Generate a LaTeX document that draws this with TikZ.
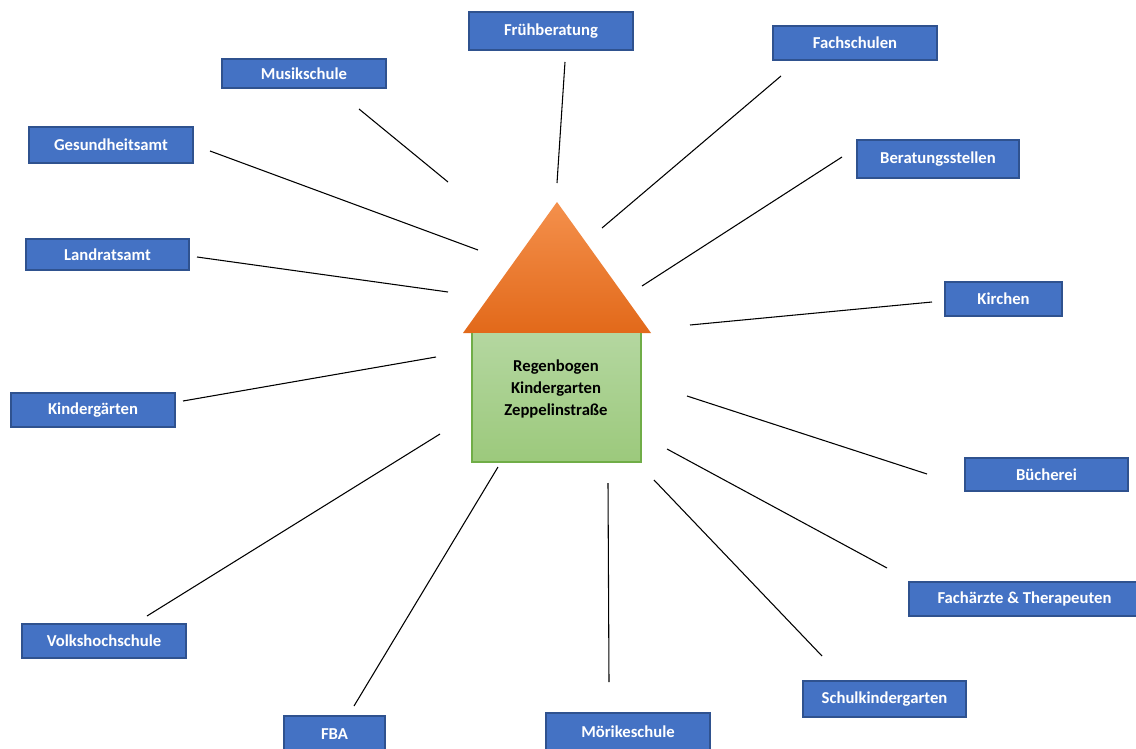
\documentclass[tikz,border=0pt]{standalone}
\usepackage{fontspec}
\setmainfont{Carlito}
\definecolor{boxblue}{HTML}{4472C4}
\definecolor{boxedge}{HTML}{2F528F}
\definecolor{rooftop}{HTML}{F4904C}
\definecolor{roofbot}{HTML}{E2691A}
\definecolor{walltop}{HTML}{B4D7A0}
\definecolor{wallbot}{HTML}{9CC97C}
\definecolor{walledge}{HTML}{70AD47}
\begin{document}
\begin{tikzpicture}[x=0.75pt,y=-0.75pt,
  bbox/.style={draw=boxedge,fill=boxblue,line width=0.9pt,text=white,
    font=\fontsize{12.5}{15}\selectfont\bfseries,inner sep=0pt},
  bw/.style={minimum width=#1*0.75pt},
  bh/.style={minimum height=#1*0.75pt},
  link/.style={draw=black,line width=0.8pt}]
\clip (0,0) rectangle (1136,749);
\fill[white] (0,0) rectangle (1136,749);
% house
\shade[top color=rooftop,bottom color=roofbot] (557,202) -- (651,333) -- (463,333) -- cycle;
\shade[top color=walltop,bottom color=wallbot] (472,333) rectangle (641,462);
\draw[walledge,line width=0.9pt] (472,333) -- (472,462) -- (641,462) -- (641,333);
\node[font=\fontsize{12.5}{16.5}\selectfont\bfseries,align=center,text=black] (home) at (556,389)
  {Regenbogen\\Kindergarten\\Zeppelinstraße};
% boxes
\node[bbox,bw=164,bh=38] (fb) at (551,31) {Frühberatung};
\node[bbox,bw=164,bh=34] (fs) at (855,43) {Fachschulen};
\node[bbox,bw=164,bh=29] (ms) at (304,73.5) {Musikschule};
\node[bbox,bw=164,bh=36] (ga) at (111,145) {Gesundheitsamt};
\node[bbox,bw=162,bh=38] (bs) at (938,159) {Beratungsstellen};
\node[bbox,bw=163,bh=31] (la) at (107.5,254.5) {Landratsamt};
\node[bbox,bw=117,bh=34] (ki) at (1003.5,299) {Kirchen};
\node[bbox,bw=164,bh=34] (kg) at (93,410) {Kindergärten};
\node[bbox,bw=163,bh=33] (bu) at (1046.5,474.5) {Bücherei};
\node[bbox,bw=231,bh=34] (fa) at (1024.5,599) {Fachärzte \& Therapeuten};
\node[bbox,bw=164,bh=34] (vh) at (104,641) {Volkshochschule};
\node[bbox,bw=163,bh=36] (sk) at (884.5,699) {Schulkindergarten};
\node[bbox,bw=101,bh=36] (fba) at (334.5,734) {FBA};
\node[bbox,bw=164,bh=37] (mo) at (628,731.5) {Mörikeschule};
% connector end points
\coordinate (fb1) at (565,62);  \coordinate (fb2) at (557,183);
\coordinate (fs1) at (781,76);  \coordinate (fs2) at (602,228);
\coordinate (ms1) at (359,109); \coordinate (ms2) at (448,182);
\coordinate (ga1) at (210,151); \coordinate (ga2) at (478,250);
\coordinate (bs1) at (842,157); \coordinate (bs2) at (642,286);
\coordinate (la1) at (197,257); \coordinate (la2) at (448,292);
\coordinate (ki1) at (932,302); \coordinate (ki2) at (690,325);
\coordinate (kg1) at (183,401); \coordinate (kg2) at (436,357);
\coordinate (bu1) at (927,474); \coordinate (bu2) at (687,396);
\coordinate (fa1) at (887,568); \coordinate (fa2) at (667,449);
\coordinate (vh1) at (147,616); \coordinate (vh2) at (440,434);
\coordinate (sk1) at (822,656); \coordinate (sk2) at (654,480);
\coordinate (fba1) at (354,706); \coordinate (fba2) at (498,467);
\coordinate (mo1) at (609,682); \coordinate (mo2) at (608,483);
\foreach \n in {fb,fs,ms,ga,bs,la,ki,kg,bu,fa,vh,sk,fba,mo}
  \draw[link] (\n1) -- (\n2);
\end{tikzpicture}
\end{document}
